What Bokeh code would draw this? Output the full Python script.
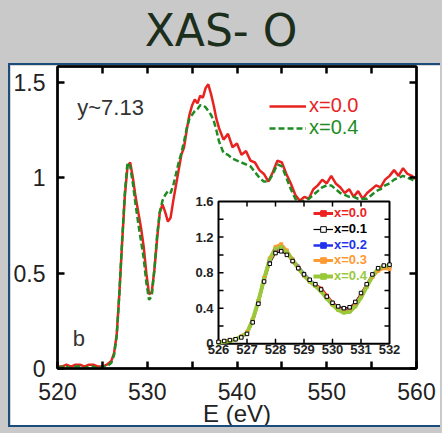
from bokeh.plotting import figure
from bokeh.models import (Range1d, LinearAxis, FixedTicker, Legend, LegendItem, Div,
                          Label, NumeralTickFormatter)
from bokeh.layouts import column
from bokeh.embed import file_html
from bokeh.resources import INLINE
from bokeh.core.properties import value

FONT = "Liberation Sans"

# ---------------- data ----------------
energy_main = [520, 520.5, 521, 521.5, 522, 522.5, 523, 523.5, 524, 524.5, 525, 525.5, 526,
               526.3, 526.6, 526.9, 527.2, 527.5, 527.8, 528.1, 528.4, 528.7, 529.0,
               529.3, 529.6, 529.9, 530.2, 530.5, 530.8, 531.1, 531.4, 531.7, 532.0,
               532.3, 532.6, 532.9, 533.2, 533.5, 533.8, 534.1, 534.4, 534.7, 535.0,
               535.3, 535.6, 535.9, 536.2, 536.5, 536.8, 537.1, 537.4, 537.7, 538.0,
               538.5, 539, 539.5, 540, 540.5, 541, 541.5, 542, 542.5, 543, 543.5, 544,
               544.5, 545, 545.5, 546, 546.5, 547, 547.5, 548, 548.5, 549, 549.5, 550,
               550.5, 551, 551.5, 552, 552.5, 553, 553.5, 554, 554.5, 555, 555.5, 556,
               556.5, 557, 557.5, 558, 558.5, 559, 559.5, 560]
xas_x00 = [0.01, 0.01, 0.02, 0.01, 0.02, 0.02, 0.01, 0.02, 0.02, 0.01, 0.01, 0.02, 0.04,
           0.08, 0.18, 0.40, 0.66, 0.90, 1.06, 1.08, 1.00, 0.90, 0.82,
           0.74, 0.64, 0.50, 0.39, 0.40, 0.52, 0.68, 0.82, 0.86, 0.82,
           0.77, 0.79, 0.88, 0.96, 1.04, 1.12, 1.16, 1.25, 1.33, 1.38,
           1.41, 1.39, 1.43, 1.42, 1.47, 1.49, 1.44, 1.38, 1.31, 1.26,
           1.20, 1.23, 1.16, 1.18, 1.12, 1.14, 1.09, 1.08, 1.04, 1.02, 0.98, 1.03,
           1.09, 1.08, 1.02, 0.97, 0.91, 0.88, 0.90, 0.89, 0.94, 0.96, 0.99, 0.97,
           1.01, 0.97, 0.95, 0.92, 0.94, 0.90, 0.93, 0.89, 0.92, 0.94, 0.96, 0.95,
           0.99, 1.01, 1.04, 1.01, 1.05, 1.02, 1.01, 0.99]
xas_x04 = [0.00, 0.01, 0.01, 0.00, 0.01, 0.01, 0.00, 0.01, 0.01, 0.00, 0.01, 0.01, 0.03,
           0.07, 0.17, 0.40, 0.67, 0.92, 1.08, 1.06, 0.97, 0.86, 0.76,
           0.67, 0.58, 0.45, 0.36, 0.38, 0.52, 0.70, 0.82, 0.88, 0.91,
           0.93, 0.92, 0.96, 1.02, 1.08, 1.13, 1.19, 1.26, 1.31, 1.33,
           1.35, 1.36, 1.38, 1.38, 1.37, 1.35, 1.33, 1.30, 1.25, 1.19,
           1.13, 1.12, 1.10, 1.09, 1.08, 1.07, 1.06, 1.03, 1.00, 0.98, 0.98, 1.02,
           1.07, 1.06, 1.00, 0.94, 0.89, 0.87, 0.88, 0.89, 0.91, 0.93, 0.95, 0.96,
           0.96, 0.94, 0.92, 0.91, 0.90, 0.90, 0.89, 0.89, 0.89, 0.91, 0.93, 0.94,
           0.96, 0.97, 0.99, 1.00, 1.01, 1.00, 0.99, 0.98]

energy_inset = [526.0, 526.2, 526.4, 526.6, 526.8, 527.0, 527.2, 527.4, 527.6, 527.8,
                528.0, 528.2, 528.4, 528.6, 528.8, 529.0, 529.2, 529.4, 529.6, 529.8,
                530.0, 530.2, 530.4, 530.6, 530.8, 531.0, 531.2, 531.4, 531.6, 531.8, 532.0]
inset_x00 = [0.02, 0.03, 0.04, 0.05, 0.08, 0.12, 0.26, 0.47, 0.72, 0.93, 1.05, 1.08, 1.02,
             0.93, 0.85, 0.77, 0.71, 0.66, 0.62, 0.54, 0.46, 0.41, 0.37, 0.39, 0.45, 0.55,
             0.66, 0.77, 0.84, 0.87, 0.87]
inset_x01 = [0.02, 0.03, 0.04, 0.05, 0.07, 0.11, 0.24, 0.45, 0.70, 0.90, 1.02, 1.04, 1.00,
             0.93, 0.85, 0.78, 0.72, 0.67, 0.61, 0.53, 0.46, 0.42, 0.40, 0.41, 0.47, 0.57,
             0.67, 0.78, 0.85, 0.88, 0.89]
inset_x02 = [0.02, 0.03, 0.04, 0.05, 0.08, 0.12, 0.26, 0.47, 0.72, 0.94, 1.06, 1.08, 1.03,
             0.95, 0.87, 0.79, 0.72, 0.66, 0.60, 0.52, 0.45, 0.40, 0.37, 0.38, 0.44, 0.54,
             0.65, 0.76, 0.84, 0.87, 0.86]
inset_x03 = [0.02, 0.03, 0.04, 0.05, 0.08, 0.13, 0.27, 0.48, 0.74, 0.96, 1.09, 1.12, 1.05,
             0.95, 0.86, 0.77, 0.70, 0.65, 0.60, 0.52, 0.44, 0.39, 0.36, 0.37, 0.43, 0.53,
             0.64, 0.75, 0.82, 0.85, 0.84]
inset_x04 = [0.01, 0.02, 0.03, 0.05, 0.08, 0.12, 0.27, 0.48, 0.73, 0.95, 1.07, 1.09, 1.03,
             0.94, 0.85, 0.77, 0.70, 0.65, 0.59, 0.51, 0.44, 0.38, 0.35, 0.36, 0.42, 0.52,
             0.64, 0.76, 0.84, 0.87, 0.88]

main_xticks = [520, 530, 540, 550, 560]
main_xminor = [525, 535, 545, 555]
main_yticks = [0, 0.5, 1, 1.5]
inset_xticks = [526, 527, 528, 529, 530, 531, 532]
inset_yticks = [0, 0.4, 0.8, 1.2, 1.6]
inset_yminor = [0.2, 0.6, 1.0, 1.4]
main_labels = ["x=0.0", "x=0.4"]
inset_labels = ["x=0.0", "x=0.1", "x=0.2", "x=0.3", "x=0.4"]
x_title = "E (eV)"

# ---------------- layout constants (page pixels) ----------------
FRAME_L, FRAME_R, FRAME_T, FRAME_B = 57, 416, 66, 370
INSET_L, INSET_R, INSET_T, INSET_B = 218, 389, 202, 345
IX0, IX1 = inset_xticks[0], inset_xticks[-1]
IY0, IY1 = inset_yticks[0], inset_yticks[-1]

RED = "#e8231f"
GREEN = "#1e8c22"
INSET_COLORS = ["#ee2222", "#000000", "#2233ee", "#ff9933", "#99c93a"]

# ---------------- main figure ----------------
p = figure(width=432, height=364, x_range=Range1d(main_xticks[0], main_xticks[-1]),
           y_range=Range1d(0, (FRAME_B - FRAME_T) / 192.0),
           output_backend="svg", toolbar_location=None,
           min_border_left=47, min_border_right=26, min_border_top=1, min_border_bottom=59,
           border_fill_color="white", background_fill_color="white",
           margin=(0, 0, 2, 8),
           styles={"border-left": "2px solid #1b4c7c", "border-top": "2px solid #1b4c7c",
                   "border-bottom": "2px solid #1b4c7c"})
p.grid.visible = False
p.outline_line_color = "black"
p.outline_line_width = 2


def style_axis(ax, labels=True):
    ax.axis_line_width = 2.5
    ax.major_tick_line_width = 2.5
    ax.minor_tick_line_width = 2.5
    ax.major_tick_in = 7
    ax.major_tick_out = 0
    ax.minor_tick_in = 7
    ax.minor_tick_out = 0
    if labels:
        ax.major_label_text_font = FONT
        ax.major_label_text_font_size = "23px"
        ax.major_label_text_color = "#222222"
    else:
        ax.major_label_text_font_size = "0px"
        ax.major_label_text_color = None
        ax.major_label_standoff = 0


xax = p.xaxis[0]
xax.ticker = FixedTicker(ticks=main_xticks, minor_ticks=main_xminor)
style_axis(xax)
xax.major_label_standoff = 14
xax.major_label_text_line_height = 1.0
xax.axis_label = x_title
xax.axis_label_text_font = FONT
xax.axis_label_text_font_size = "24px"
xax.axis_label_text_font_style = "normal"
xax.axis_label_text_color = "#222222"
xax.axis_label_text_line_height = 1.0
xax.axis_label_standoff = -3

yax = p.yaxis[0]
yax.ticker = FixedTicker(ticks=main_yticks)
yax.formatter = NumeralTickFormatter(format="0.[0]")
style_axis(yax)
yax.major_label_standoff = 12

top_ax = LinearAxis(ticker=FixedTicker(ticks=main_xminor + main_xticks[1:-1]))
style_axis(top_ax, labels=False)
p.add_layout(top_ax, "above")
right_ax = LinearAxis(ticker=FixedTicker(ticks=main_yticks))
style_axis(right_ax, labels=False)
p.add_layout(right_ax, "right")

r_red = p.line(energy_main, xas_x00, line_color=RED, line_width=2.5)
r_green = p.line(energy_main, xas_x04, line_color=GREEN, line_width=2.5, line_dash="6 3")

# annotations
p.add_layout(Label(x=522.2, y=(FRAME_B - 107) / 192.0, text="y~7.13", text_font=FONT,
                   text_font_size="22px", text_color="#333333", text_baseline="alphabetic"))
p.add_layout(Label(x=521.7, y=(FRAME_B - 340) / 192.0, text="b", text_font=FONT,
                   text_font_size="22px", text_color="#333333", text_baseline="alphabetic"))

for rend, lab, col, cy in [(r_red, main_labels[0], RED, 109), (r_green, main_labels[1], GREEN, 131)]:
    lg = Legend(items=[LegendItem(label=lab, renderers=[rend])],
                location=(269 - FRAME_L, FRAME_B - (cy + 10)),
                padding=0, margin=0, spacing=0, glyph_width=37, glyph_height=20,
                label_height=20, label_standoff=3, border_line_alpha=0,
                background_fill_alpha=0, label_text_font=FONT,
                label_text_font_size="20px", label_text_color=col)
    p.add_layout(lg, "center")

# ---------------- inset (drawn on extra ranges) ----------------
sx = (IX1 - IX0) / (INSET_R - INSET_L)
sy = (IY1 - IY0) / (INSET_B - INSET_T)
p.extra_x_ranges = {"ix": Range1d(IX0 - (INSET_L - FRAME_L) * sx, IX1 + (FRAME_R - INSET_R) * sx)}
p.extra_y_ranges = {"iy": Range1d(IY0 - (FRAME_B - INSET_B) * sy, IY1 + (INSET_T - FRAME_T) * sy)}
kw = dict(x_range_name="ix", y_range_name="iy")

p.quad(left=IX0, right=IX1, bottom=IY0, top=IY1, fill_color="white",
       line_color="black", line_width=2, **kw)

tl_y = 5 * sy
tl_x = 5 * sx
inner_x = inset_xticks[1:-1]
p.segment(x0=inner_x, y0=[IY0] * len(inner_x), x1=inner_x, y1=[IY0 + tl_y] * len(inner_x),
          line_color="black", line_width=1.5, **kw)
p.segment(x0=inner_x, y0=[IY1] * len(inner_x), x1=inner_x, y1=[IY1 - tl_y] * len(inner_x),
          line_color="black", line_width=1.5, **kw)
inner_y = sorted(inset_yticks[1:-1] + inset_yminor)
p.segment(x0=[IX0] * len(inner_y), y0=inner_y, x1=[IX0 + tl_x] * len(inner_y), y1=inner_y,
          line_color="black", line_width=1.5, **kw)
p.segment(x0=[IX1] * len(inner_y), y0=inner_y, x1=[IX1 - tl_x] * len(inner_y), y1=inner_y,
          line_color="black", line_width=1.5, **kw)

p.text(x=inset_xticks, y=[IY0] * len(inset_xticks), text=[f"{t:g}" for t in inset_xticks],
       text_align="center", text_baseline="top", y_offset=1,
       text_font=value(FONT), text_font_style="bold", text_font_size="13px",
       text_color="#222222", **kw)
p.text(x=[IX0] * len(inset_yticks), y=inset_yticks, text=[f"{t:g}" for t in inset_yticks],
       text_align="right", text_baseline="middle", x_offset=-5,
       text_font=value(FONT), text_font_style="bold", text_font_size="13px",
       text_color="#222222", **kw)

inset_series = [inset_x00, inset_x01, inset_x02, inset_x03, inset_x04]
widths = [3.0, 1.2, 2.5, 3.0, 4.0]
marker_styles = [("square", 3, INSET_COLORS[0]), ("square", 3.5, "white"),
                 ("square", 2.5, INSET_COLORS[2]), ("square", 3, INSET_COLORS[3]),
                 ("square", 3, INSET_COLORS[4])]
rends = {}
# lines first (black underneath), then markers, black markers last
for i in [1, 0, 2, 3, 4]:
    rends[i] = [p.line(energy_inset, inset_series[i], line_color=INSET_COLORS[i],
                       line_width=widths[i], **kw)]
for i in [0, 2, 3, 4, 1]:
    mk, sz, fc = marker_styles[i]
    rends[i].append(p.scatter(energy_inset, inset_series[i], marker=mk, size=sz,
                              line_color=INSET_COLORS[i], fill_color=fc, line_width=1, **kw))

row_centers = [215, 231, 247, 262, 278]
for i in range(5):
    lg = Legend(items=[LegendItem(label=inset_labels[i], renderers=rends[i])],
                location=(313 - FRAME_L, FRAME_B - (row_centers[i] + 7)),
                padding=0, margin=0, spacing=0, glyph_width=20, glyph_height=14,
                label_height=14, label_standoff=1, border_line_alpha=0,
                background_fill_alpha=0, label_text_font=FONT, label_text_font_style="bold",
                label_text_font_size="13px", label_text_color=INSET_COLORS[i])
    p.add_layout(lg, "center")

# ---------------- title banner ----------------
title = Div(text='<div style="width:442px;height:63px;line-height:62px;text-align:center;'
                 'font-family:\'DejaVu Sans\';font-size:44px;color:#1c2e1c;">XAS- O</div>',
            width=442, height=63, margin=0)

layout = column(title, p, width=442, height=433, spacing=0,
                styles={"background-color": "#c9c9c9"})

open("out.html", "w").write(file_html(layout, INLINE))
